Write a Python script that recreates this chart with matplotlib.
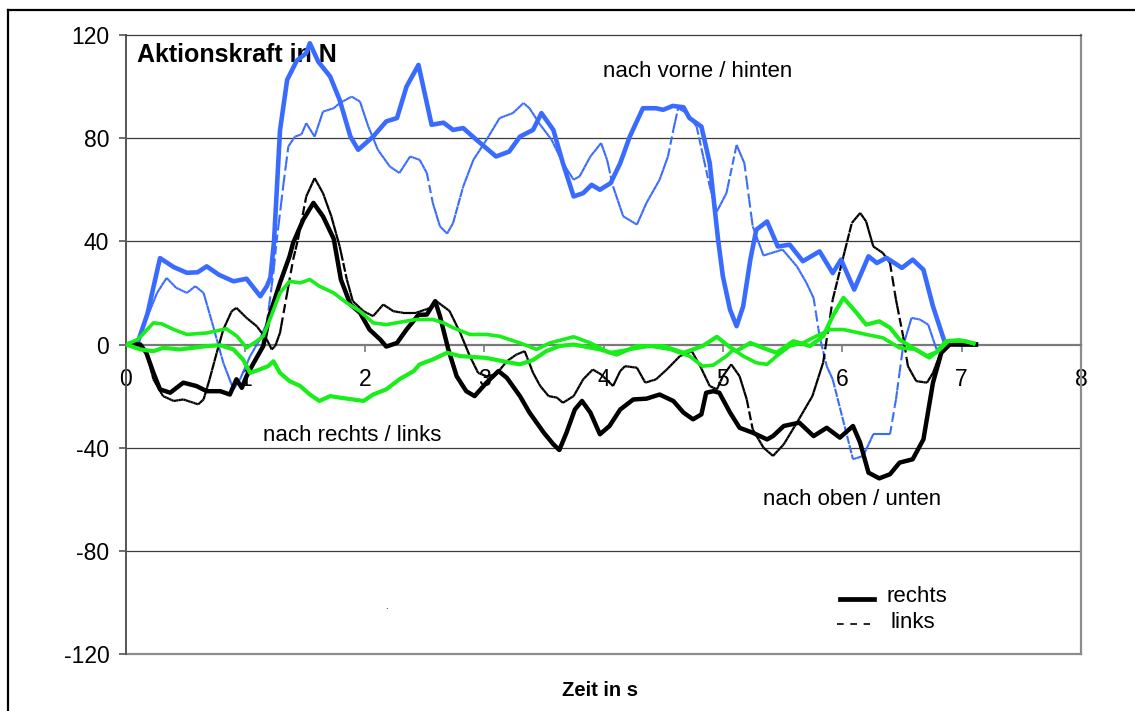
import numpy as np
import matplotlib
matplotlib.use("Agg")
import matplotlib.pyplot as plt
from matplotlib.collections import LineCollection
from matplotlib.lines import Line2D

plt.rcParams['font.family'] = ['Liberation Sans', 'DejaVu Sans']

# ---- data, time in s, force in N ----
# nach vorne / hinten
t_vr = [0, 0.1, 0.18, 0.285, 0.4, 0.51, 0.6, 0.676, 0.78, 0.9, 1.01, 1.125, 1.18, 1.21, 1.24,
        1.29, 1.35, 1.43, 1.51, 1.54, 1.61, 1.71, 1.79, 1.88, 1.945, 2.07, 2.18, 2.27, 2.35,
        2.45, 2.56, 2.66, 2.74, 2.825, 2.935, 3.1, 3.21, 3.3, 3.41, 3.48, 3.58, 3.66, 3.75,
        3.83, 3.9, 3.97, 4.06, 4.14, 4.22, 4.33, 4.44, 4.5, 4.58, 4.67, 4.72, 4.82, 4.89,
        4.96, 5.0, 5.06, 5.115, 5.17, 5.23, 5.28, 5.37, 5.46, 5.56, 5.67, 5.81, 5.92, 5.99,
        6.1, 6.22, 6.29, 6.37, 6.5, 6.59, 6.68, 6.76, 6.86, 7.0, 7.12]
f_vr = [0, 1, 12, 33.5, 30, 27.8, 28, 30.3, 27, 24.5, 25.5, 18.7, 22.6, 26, 40,
        83, 102.6, 110, 113, 116.8, 109.7, 103.9, 94.8, 80.6, 75.5, 80.6, 86.5, 87.8, 100,
        108.4, 85.2, 86, 83.2, 83.9, 79.4, 72.9, 74.8, 80.6, 83.2, 89.7, 83.2, 70.3, 57.4,
        58.7, 61.9, 60, 62.6, 70.3, 80.6, 91.6, 91.6, 91, 92.5, 92, 87.8, 84.5, 70.3,
        40.6, 26.4, 13.5, 7.1, 14.8, 32.9, 44.5, 47.7, 38, 38.7, 32.3, 36.1, 27.7, 32.9,
        21.3, 34.2, 31.6, 33.6, 29.7, 32.9, 29, 14.8, 0.7, 0, 0]
t_vl = [0, 0.1, 0.17, 0.26, 0.34, 0.42, 0.51, 0.58, 0.65, 0.73, 0.815, 0.9, 0.955, 1.04, 1.12,
        1.18, 1.235, 1.26, 1.32, 1.36, 1.415, 1.47, 1.51, 1.58, 1.65, 1.74, 1.79, 1.89, 1.96,
        2.03, 2.11, 2.21, 2.29, 2.38, 2.46, 2.52, 2.57, 2.63, 2.69, 2.74, 2.825, 2.91, 3.02,
        3.13, 3.24, 3.33, 3.38, 3.47, 3.565, 3.66, 3.75, 3.8, 3.89, 3.98, 4.03, 4.08, 4.165,
        4.28, 4.36, 4.47, 4.54, 4.585, 4.625, 4.7, 4.78, 4.835, 4.89, 4.95, 5.03, 5.115, 5.18,
        5.25, 5.34, 5.5, 5.62, 5.7, 5.76, 5.81, 5.87, 5.92, 6.09, 6.175, 6.26, 6.4, 6.45,
        6.51, 6.58, 6.65, 6.72, 6.79, 6.85, 7.12]
f_vl = [0, 1, 9.7, 20, 25.8, 22, 20, 22.6, 20, 7.1, -7.1, -17.4, -13.5, -4.5, 1.9,
        8.4, 27.8, 39.4, 62.6, 76.8, 80.6, 81.5, 85.8, 80.6, 90.3, 91.6, 93.6, 96.1, 94.2,
        84.5, 75.5, 69, 66.5, 72.9, 71.6, 66.5, 54.9, 45.8, 43, 47.1, 61.3, 71.6, 79.4,
        87.8, 89.7, 93.6, 91.6, 85.2, 79.4, 70.3, 63.9, 65.2, 72.9, 78.1, 71.6, 61.3, 49.7,
        46.5, 54.9, 63.9, 72.9, 83.2, 91.6, 89.7, 84.5, 72.9, 61.3, 51.6, 58.7, 77.4, 70.3,
        45.8, 34.5, 36.8, 30.3, 23.9, 18, 3.2, -8.4, -13.5, -44.5, -43.2, -34.8, -34.8, -21.3,
        -0.6, 10.3, 9.7, 7.7, -1.9, 0, 0]

# nach oben / unten
t_or = [0, 0.12, 0.17, 0.23, 0.285, 0.37, 0.48, 0.59, 0.676, 0.79, 0.87, 0.925, 0.97, 1.01,
        1.07, 1.15, 1.2, 1.29, 1.37, 1.4, 1.485, 1.57, 1.65, 1.74, 1.8, 1.88, 1.96, 2.04,
        2.13, 2.18, 2.27, 2.35, 2.45, 2.52, 2.59, 2.63, 2.7, 2.77, 2.85, 2.92, 3.02, 3.12,
        3.19, 3.3, 3.38, 3.5, 3.58, 3.63, 3.69, 3.76, 3.82, 3.89, 3.97, 4.05, 4.14, 4.25,
        4.36, 4.47, 4.585, 4.67, 4.75, 4.82, 4.86, 4.92, 4.97, 5.06, 5.14, 5.25, 5.37, 5.42,
        5.51, 5.64, 5.76, 5.87, 5.98, 6.09, 6.15, 6.22, 6.31, 6.4, 6.48, 6.59, 6.68, 6.76,
        6.83, 6.9, 7.12]
f_or = [0, 0, -3.2, -11, -17.4, -18.7, -14.8, -16.1, -18.1, -18.1, -19.4, -13.5, -16.8, -12.3,
        -7.1, -0.6, 11, 23.9, 34.2, 39.4, 48.4, 54.9, 49.7, 41, 25.2, 15.5, 12.3, 5.8,
        1.9, -0.8, 0.6, 5.8, 11.5, 11.6, 16.8, 11, -1.9, -12.3, -18.1, -20, -14.8, -10.3,
        -12.9, -20, -26.4, -34.2, -38.7, -40.9, -34.2, -25.2, -21.9, -26.4, -34.8, -31.6, -25.2, -21.3,
        -21, -19.4, -21.9, -26.4, -29, -27.1, -18.7, -18.1, -18.7, -26.4, -32.3, -34.2, -36.8, -35.5,
        -31.6, -30.3, -35.5, -32.3, -36.1, -31.6, -38.1, -49.7, -51.9, -50.3, -45.8, -44.5, -36.8, -14.8,
        -3.2, 0, 0]
t_ol = [0, 0.12, 0.17, 0.23, 0.31, 0.4, 0.48, 0.565, 0.605, 0.65, 0.7, 0.76, 0.815, 0.885,
        0.925, 1.01, 1.095, 1.18, 1.22, 1.25, 1.29, 1.35, 1.4, 1.44, 1.51, 1.58, 1.65, 1.72,
        1.79, 1.85, 1.9, 1.99, 2.07, 2.155, 2.24, 2.32, 2.43, 2.55, 2.6, 2.71, 2.8, 2.88,
        2.95, 3.02, 3.1, 3.19, 3.27, 3.34, 3.41, 3.47, 3.54, 3.61, 3.66, 3.75, 3.83, 3.91,
        3.98, 4.08, 4.14, 4.18, 4.28, 4.35, 4.44, 4.53, 4.64, 4.74, 4.81, 4.89, 4.95, 5.0,
        5.07, 5.14, 5.2, 5.25, 5.34, 5.42, 5.51, 5.62, 5.75, 5.84, 5.92, 6.01, 6.08, 6.15,
        6.2, 6.26, 6.34, 6.4, 6.45, 6.51, 6.55, 6.62, 6.71, 6.76, 6.85, 7.12]
f_ol = [0, 0, -3, -13.5, -20, -21.9, -21.3, -22.6, -23.2, -21.3, -13.5, -3.2, 5.8, 12.9,
        14.2, 10.3, 7.1, 1.9, -1.9, -0.6, 4.5, 20, 32.9, 40.6, 57.4, 64.5, 58.7, 49.7,
        38, 25.2, 16.8, 12.9, 11, 15.5, 12.9, 12.3, 12.3, 14.2, 16.8, 13, 4.5, -4.5,
        -11, -12.3, -11.6, -6.5, -3.9, -2.6, -11, -16.1, -20, -20.6, -22.6, -20, -13.5, -9.7,
        -11.6, -16.1, -10.3, -8.4, -9, -14.8, -13.5, -9.7, -4.5, -2.6, -8.4, -16.1, -17.4, -12.3,
        -7.7, -12.3, -21.3, -32.9, -40, -43.2, -38.7, -30.3, -20, -7, 17.4, 34.2, 47.1, 51,
        47.7, 38, 35.5, 31.6, 17.4, 3.2, -8.4, -14.2, -14.8, -11, 0, 0]

# nach rechts / links
t_rr = [0, 0.12, 0.23, 0.31, 0.45, 0.56, 0.68, 0.79, 0.9, 0.98, 1.04, 1.12, 1.19, 1.235,
        1.29, 1.37, 1.46, 1.54, 1.62, 1.71, 1.79, 1.9, 1.99, 2.07, 2.18, 2.29, 2.41, 2.46,
        2.57, 2.69, 2.8, 3.02, 3.19, 3.3, 3.41, 3.52, 3.63, 3.75, 3.97, 4.11, 4.28, 4.5,
        4.67, 4.83, 4.95, 5.03, 5.11, 5.23, 5.37, 5.45, 5.59, 5.73, 5.84, 5.92, 6.01, 6.12,
        6.2, 6.31, 6.4, 6.48, 6.59, 6.71, 6.79, 6.87, 6.98, 7.1]
f_rr = [0, -1.9, -2.6, -1.3, -1.9, -1.3, -0.6, -0.3, -1.9, -5.8, -11, -9.7, -8.4, -6.5,
        -11, -14.2, -16.1, -19.4, -21.9, -20, -20.6, -21.3, -21.9, -19.4, -17.4, -13.5, -10.3, -7.7,
        -5.8, -3.2, -4.5, -5.2, -6.8, -7.7, -6, -2.6, -0.6, 0, -1.9, -3.9, -0.6, -0.6,
        -3.2, -0.6, 3, 0, -2.6, 0.6, -1.9, -3.2, 1.3, -0.6, 3.2, 11, 18.1, 12.3,
        7.7, 9, 6.5, 1.9, -1.3, -4.5, -3, 1.3, 1.7, 0.5]
t_rl = [0, 0.1, 0.23, 0.3, 0.4, 0.51, 0.68, 0.84, 0.93, 1.01, 1.095, 1.15, 1.21, 1.29,
        1.37, 1.46, 1.54, 1.62, 1.74, 1.85, 1.96, 2.07, 2.18, 2.29, 2.43, 2.57, 2.66, 2.74,
        2.88, 3.02, 3.13, 3.3, 3.44, 3.55, 3.75, 3.89, 4.05, 4.22, 4.39, 4.56, 4.72, 4.83,
        4.92, 5.03, 5.09, 5.17, 5.28, 5.37, 5.45, 5.56, 5.67, 5.78, 5.9, 6.01, 6.2, 6.34,
        6.48, 6.62, 6.73, 6.82, 6.89, 7.04, 7.1]
f_rl = [0, 2, 8.4, 8, 5.8, 3.9, 4.5, 6.1, 3.2, -1.3, 1.3, 3.2, 10.3, 20,
        24.5, 23.9, 25.2, 22.6, 20, 16.1, 12.9, 8.4, 7.7, 8.6, 9.7, 9.7, 8.4, 6.5,
        3.9, 3.9, 3.2, 0.6, -1.9, 0.6, 3, 0.6, -3.2, -1.9, -0.6, -1.9, -4.5, -8.4,
        -8, -4.5, -1.9, -4.5, -7.1, -7.7, -4.5, -0.6, 0.6, 3.2, 5.8, 5.8, 3.9, 2.6,
        -1.3, -1.9, -5.2, -1.9, 1.3, 1.3, 0.3]

x_ticks = [0, 1, 2, 3, 4, 5, 6, 7, 8]
y_ticks = [-120, -80, -40, 0, 40, 80, 120]
y_labels = ['-120', '-80', '-40', '0', '40', '80', '120']
grid_vals = [-80, -40, 40, 80]

BLUE = '#3a6bff'
GREEN = '#18ee18'
BLACK = '#000000'


def links_line(ax, t, f, color, lw):
    # Excel restarts the dash pattern on every short segment, so flat parts look solid
    t = np.asarray(t, float)
    f = np.asarray(f, float)
    tt = np.union1d(t, np.arange(t[0], t[-1], 0.02))
    ff = np.interp(tt, t, f)
    pts = np.column_stack([tt, ff])
    segs = np.stack([pts[:-1], pts[1:]], axis=1)
    lc = LineCollection(segs, colors=color, linewidths=lw,
                        linestyles=[(0, (4.0, 2.0))], capstyle='butt', zorder=3)
    ax.add_collection(lc)


fig = plt.figure(figsize=(11.35, 7.11), dpi=100)
ax = fig.add_axes([126 / 1135, 1 - 654 / 711, (1081 - 126) / 1135, (654 - 35) / 711])
ax.set_axisbelow(True)

for g in grid_vals:
    ax.axhline(g, color='#3c3c3c', lw=0.9, zorder=1)
ax.axhline(-120, color='#8c8c8c', lw=1.6, zorder=1, clip_on=False)

# curves
ax.plot(t_vr, f_vr, color=BLUE, lw=3.3, zorder=4, solid_joinstyle='round')
links_line(ax, t_vl, f_vl, BLUE, 1.5)
ax.plot(t_or, f_or, color=BLACK, lw=3.2, zorder=4, solid_joinstyle='round')
links_line(ax, t_ol, f_ol, BLACK, 1.6)
ax.plot(t_rl, f_rl, color=GREEN, lw=2.6, zorder=5, solid_joinstyle='round')
ax.plot(t_rr, f_rr, color=GREEN, lw=3.0, zorder=5, solid_joinstyle='round')

ax.set_xlim(0, 8)
ax.set_ylim(-120, 120)
ax.set_xticks(x_ticks)
ax.set_xticklabels([str(v) for v in x_ticks])
ax.set_yticks(y_ticks)
ax.set_yticklabels(y_labels)

ax.spines['bottom'].set_position(('data', 0))
ax.spines['bottom'].set_color('#7a7a7a')
ax.spines['bottom'].set_linewidth(1.6)
ax.spines['top'].set_color('#3c3c3c')
ax.spines['top'].set_linewidth(0.9)
ax.spines['left'].set_color('#555555')
ax.spines['left'].set_linewidth(1.4)
ax.spines['right'].set_color('#8c8c8c')
ax.spines['right'].set_linewidth(1.6)

ax.tick_params(axis='x', direction='out', length=5, width=1.2, color='#7a7a7a',
               labelsize=16.5, pad=12)
ax.tick_params(axis='y', direction='out', length=5, width=1.2, color='#555555',
               labelsize=16.5, pad=7)

# texts
ax.text(0.09, 112.3, 'Aktionskraft in N', fontsize=18, fontweight='bold',
        ha='left', va='center', zorder=2)
ax.text(3.995, 105.7, 'nach vorne / hinten', fontsize=16, ha='left', va='center')
ax.text(1.147, -35.2, 'nach rechts / links', fontsize=16, ha='left', va='center')
ax.text(5.335, -60, 'nach oben / unten', fontsize=16, ha='left', va='center')
ax.text(2.18, -101.5, '.', fontsize=7, ha='center', va='center')
fig.text(600 / 1135, 1 - 690 / 711, 'Zeit in s', fontsize=14.5, fontweight='bold',
         ha='center', va='center')

# legend drawn by hand, like the original
tr = fig.transFigure
fig.add_artist(Line2D([840 / 1135, 874 / 1135], [1 - 599 / 711] * 2, color=BLACK, lw=3.4,
                      transform=tr))
fig.add_artist(Line2D([837 / 1135, 870 / 1135], [1 - 624 / 711] * 2, color=BLACK, lw=1.2,
                      dashes=(4, 4), transform=tr))
fig.text(887 / 1135, 1 - 597 / 711, 'rechts', fontsize=16, ha='left', va='center')
fig.text(891 / 1135, 1 - 622 / 711, 'links', fontsize=16, ha='left', va='center')

# outer frame of the picture
fig.add_artist(Line2D([8 / 1135, 8 / 1135], [0, 1 - 10 / 711], color='black', lw=1.6,
                      transform=tr))
fig.add_artist(Line2D([8 / 1135, 1], [1 - 10 / 711] * 2, color='black', lw=1.6,
                      transform=tr))

fig.savefig('out.png', dpi=100)
